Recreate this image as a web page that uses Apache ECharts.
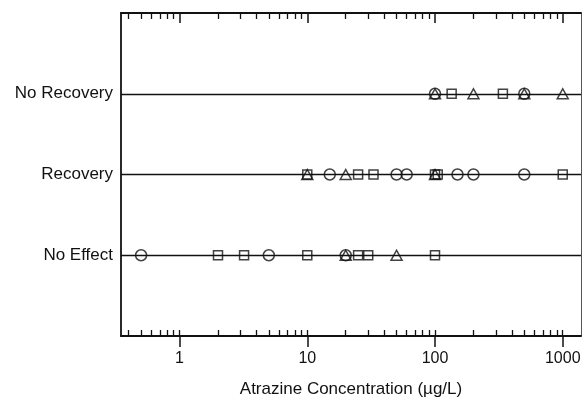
<!DOCTYPE html>
<html>
<head>
<meta charset="utf-8">
<script src="https://cdn.jsdelivr.net/npm/echarts@6/dist/echarts.min.js"></script>
<style>
  html, body { margin: 0; padding: 0; background: #fff; }
  #chart { width: 585px; height: 400px; }
</style>
</head>
<body>
<div id="chart"></div>
<script>
// Response categories, bottom to top (y = 1, 2, 3)
const responses = ['No Effect', 'Recovery', 'No Recovery'];

// Atrazine concentrations (µg/L) per response and marker shape
const noEffectCircles = [0.5, 5, 20];
const noEffectSquares = [2, 3.2, 10, 25, 30, 100];
const noEffectTriangles = [20, 50];

const recoveryCircles = [15, 50, 60, 150, 200, 500];
const recoverySquares = [10, 25, 33, 100, 105, 1000];
const recoveryTriangles = [10, 20, 100];

const noRecoveryCircles = [100, 500];
const noRecoverySquares = [135, 340];
const noRecoveryTriangles = [100, 200, 500, 1000];

// Log axis ticks
const majorTicks = [1, 10, 100, 1000];
const minorTicks = [0.4, 0.5, 0.6, 0.7, 0.8, 0.9,
  2, 3, 4, 5, 6, 7, 8, 9,
  20, 30, 40, 50, 60, 70, 80, 90,
  200, 300, 400, 500, 600, 700, 800, 900];

const X_MIN = 0.348, X_MAX = 1390;
const FONT = '"Liberation Sans", Arial, sans-serif';
const INK = '#111';

function pts(values, row) {
  return values.map(v => [v, row]);
}

const circles = [].concat(pts(noEffectCircles, 1), pts(recoveryCircles, 2), pts(noRecoveryCircles, 3));
const squares = [].concat(pts(noEffectSquares, 1), pts(recoverySquares, 2), pts(noRecoverySquares, 3));
const triangles = [].concat(pts(noEffectTriangles, 1), pts(recoveryTriangles, 2), pts(noRecoveryTriangles, 3));

function logAxis(extra) {
  return Object.assign({
    type: 'log', logBase: 10, min: X_MIN, max: X_MAX,
    gridIndex: 0,
    axisLine: { show: false },
    axisLabel: { show: false },
    splitLine: { show: false },
    minorTick: { show: false },
    axisTick: { show: false }
  }, extra);
}

const markerStyle = { color: 'rgba(0,0,0,0)', borderColor: INK, borderWidth: 1.5 };

const chart = echarts.init(document.getElementById('chart'), null, { renderer: 'canvas' });
chart.setOption({
  animation: false,
  backgroundColor: '#fff',
  grid: { left: 121, right: 4, top: 13, bottom: 64, containLabel: false, outerBoundsMode: 'none' },
  xAxis: [
    // main axis: frame line, outward major ticks, labels, title
    logAxis({
      position: 'bottom',
      axisLine: { show: true, lineStyle: { color: INK, width: 1.8 } },
      axisTick: { show: true, inside: false, length: 11, customValues: majorTicks, lineStyle: { color: INK, width: 1.5 } },
      axisLabel: { show: true, customValues: majorTicks, margin: 15, color: INK, fontSize: 16, fontFamily: FONT,
        formatter: v => String(v) },
      name: 'Atrazine Concentration (µg/L)',
      nameLocation: 'middle',
      nameGap: 45,
      nameTextStyle: { color: INK, fontSize: 17, fontFamily: FONT }
    }),
    // bottom inward ticks
    logAxis({ position: 'bottom',
      axisTick: { show: true, inside: true, length: 6, customValues: majorTicks.concat(minorTicks), lineStyle: { color: INK, width: 1.3 } } }),
    // top frame line with inward major ticks
    logAxis({ position: 'top',
      axisLine: { show: true, lineStyle: { color: INK, width: 1.8 } },
      axisTick: { show: true, inside: true, length: 10, customValues: majorTicks, lineStyle: { color: INK, width: 1.5 } } }),
    // top inward minor ticks
    logAxis({ position: 'top',
      axisTick: { show: true, inside: true, length: 6, customValues: minorTicks, lineStyle: { color: INK, width: 1.3 } } })
  ],
  yAxis: [
    {
      type: 'value', min: 0, max: 4, position: 'left',
      axisLine: { show: true, onZero: false, lineStyle: { color: INK, width: 1.8 } },
      axisTick: { show: false },
      splitLine: { show: false },
      axisLabel: {
        show: true, customValues: [1, 2, 3], margin: 8, color: INK, fontSize: 17, fontFamily: FONT,
        formatter: v => responses[Math.round(v) - 1] || ''
      }
    },
    {
      type: 'value', min: 0, max: 4, position: 'right',
      axisLine: { show: true, onZero: false, lineStyle: { color: '#555', width: 1 } },
      axisTick: { show: false }, axisLabel: { show: false }, splitLine: { show: false }
    }
  ],
  series: [
    {
      name: 'circle', type: 'scatter', xAxisIndex: 0, yAxisIndex: 0,
      symbol: 'circle', symbolSize: 11, itemStyle: markerStyle, data: circles,
      markLine: {
        silent: true, symbol: 'none', label: { show: false },
        lineStyle: { color: INK, width: 1.4, type: 'solid' },
        data: [{ yAxis: 1 }, { yAxis: 2 }, { yAxis: 3 }]
      },
      z: 3
    },
    {
      name: 'square', type: 'scatter', xAxisIndex: 0, yAxisIndex: 0,
      symbol: 'rect', symbolSize: 9, itemStyle: markerStyle, data: squares, z: 3
    },
    {
      name: 'triangle', type: 'scatter', xAxisIndex: 0, yAxisIndex: 0,
      symbol: 'triangle', symbolSize: [11, 10], itemStyle: markerStyle, data: triangles, z: 3
    }
  ]
});
</script>
</body>
</html>
